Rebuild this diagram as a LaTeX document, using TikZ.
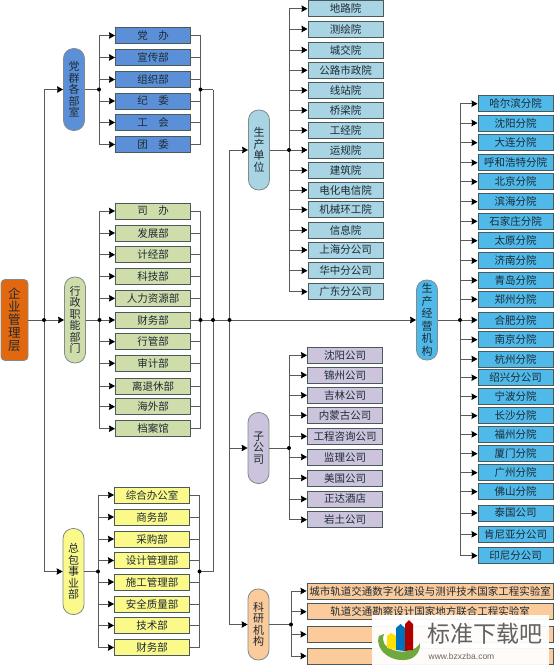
\documentclass[tikz,border=0pt]{standalone}
\usepackage{fontspec}
\setmainfont{Noto Sans CJK SC}
\newfontfamily\latinfont{Liberation Sans}
\definecolor{mLine}{HTML}{5A5A5A}
\definecolor{mEdge}{HTML}{4A5A5A}
\definecolor{mText}{HTML}{1E2A33}
\definecolor{mRoot}{HTML}{E2680F}
\definecolor{mParty}{HTML}{5B90D8}
\definecolor{mAdmin}{HTML}{CFDDAB}
\definecolor{mGen}{HTML}{FBF98A}
\definecolor{mProd}{HTML}{A8D4E3}
\definecolor{mSub}{HTML}{CBC4DC}
\definecolor{mLab}{HTML}{FBCB9C}
\definecolor{mBranch}{HTML}{4FB9EA}
\definecolor{mSwoosh}{HTML}{6FA83C}
\usetikzlibrary{positioning,arrows.meta,calc}
\tikzset{
  unitbox/.style={draw=mEdge,line width=1pt,minimum width=75pt,minimum height=16pt,inner sep=0pt,text=mText,font=\fontsize{10.5}{12}\selectfont},
  pill/.style={draw=mEdge!70,line width=.8pt,rounded corners=10pt,minimum width=21pt,inner sep=0pt,align=center,text=mText,font=\fontsize{11}{11.5}\selectfont},
  conn/.style={draw=mLine,line width=.9pt},
  arr/.style={conn,-{Stealth[length=6pt,width=6.5pt,inset=.6pt,color=black]}},
  dotnode/.style={circle,fill=black,inner sep=0pt,minimum size=4pt}
}
\begin{document}
\begin{tikzpicture}[x=1pt,y=-1pt]
\useasboundingbox (0,0) rectangle (554,665);
% top level
\node[draw=mEdge!70,line width=.8pt,fill=mRoot,rounded corners=4pt,minimum width=27pt,minimum height=81pt,inner sep=0pt,align=center,text=mText,font=\fontsize{12.5}{13}\selectfont] (root) at (14.5,320) {企\\业\\管\\理\\层};
\node[pill,fill=mParty,minimum height=82pt] (partypill) at (74,89.5) {党\\群\\各\\部\\室};
\node[pill,fill=mAdmin,minimum height=86pt] (adminpill) at (75,320) {行\\政\\职\\能\\部\\门};
\node[pill,fill=mGen,minimum height=86pt] (genpill) at (73.5,571.5) {总\\包\\事\\业\\部};
\node[pill,fill=mProd,minimum height=80pt] (prodpill) at (259,150) {生\\产\\单\\位};
\node[pill,fill=mSub,minimum height=71pt] (subpill) at (258.5,448) {子\\公\\司};
\node[pill,fill=mLab,minimum height=71pt] (labpill) at (258.5,624.5) {科\\研\\机\\构};
\node[pill,fill=mBranch,minimum height=80pt,font=\fontsize{11}{12.5}\selectfont] (branchpill) at (427,320) {生\\产\\经\\营\\机\\构};
% junctions
\coordinate (jroot) at (44,320);
\coordinate (jpartyl) at (99,89.5);
\coordinate (jpartyr) at (200.5,89.5);
\coordinate (jadminl) at (99.5,320);
\coordinate (jadminr) at (200.5,320);
\coordinate (jmid) at (213,320);
\coordinate (jtrunk) at (229.5,320);
\coordinate (jgenl) at (98,571.5);
\coordinate (jgenr) at (199.5,571.5);
\coordinate (jprod) at (289,150);
\coordinate (jsub) at (289,448);
\coordinate (jlab) at (291,624.5);
\coordinate (jbranch) at (460,320);
% party offices
\foreach \y/\t [count=\i] in {35.5/党\quad 办,57.5/宣传部,79.5/组织部,101/纪\quad 委,122.5/工\quad 会,144.5/团\quad 委} {
  \node[unitbox,fill=mParty] (party\i) at (153,\y) {\t};
  \draw[arr] (jpartyl |- party\i) -- (party\i);
  \draw[conn] (party\i) -- (jpartyr |- party\i);
}
\draw[conn] (jpartyl |- party1) -- (jpartyl |- party6);
\draw[conn] (jpartyr |- party1) -- (jpartyr |- party6);
% admin offices
\foreach \y/\t [count=\i] in {211/司\quad 办,233/发展部,254.7/计经部,276.3/科技部,298.3/人力资源部,320/财务部,341.7/行管部,363.3/审计部,386/离退休部,406.7/海外部,428.7/档案馆} {
  \node[unitbox,fill=mAdmin] (admin\i) at (153,\y) {\t};
  \draw[arr] (jadminl |- admin\i) -- (admin\i);
  \draw[conn] (admin\i) -- (jadminr |- admin\i);
}
\draw[conn] (jadminl |- admin1) -- (jadminl |- admin11);
\draw[conn] (jadminr |- admin1) -- (jadminr |- admin11);
% general contracting
\foreach \y/\t [count=\i] in {495/综合办公室,517/商务部,539/采购部,560.5/设计管理部,582/施工管理部,604/安全质量部,625.5/技术部,647.5/财务部} {
  \node[unitbox,fill=mGen] (gen\i) at (152,\y) {\t};
  \draw[arr] (jgenl |- gen\i) -- (gen\i);
  \draw[conn] (gen\i) -- (jgenr |- gen\i);
}
\draw[conn] (jgenl |- gen1) -- (jgenl |- gen8);
\draw[conn] (jgenr |- gen1) -- (jgenr |- gen8);
% production units
\foreach \y/\t [count=\i] in {8.7/地路院,29/测绘院,50/城交院,70.3/公路市政院,90.3/线站院,110.3/桥梁院,130.3/工经院,150/运规院,170.3/建筑院,190/电化电信院,209.7/机械环工院,230/信息院,250/上海分公司,270.7/华中分公司,291.7/广东分公司} {
  \node[unitbox,fill=mProd] (prod\i) at (345.5,\y) {\t};
  \draw[arr] (jprod |- prod\i) -- (prod\i);
}
\draw[conn] (jprod |- prod1) -- (jprod |- prod15);
% subsidiaries
\foreach \y/\t [count=\i] in {355.3/沈阳公司,375/锦州公司,395.3/吉林公司,415.3/内蒙古公司,436.3/工程咨询公司,457/监理公司,478/美国公司,499/正达酒店,519.7/岩土公司} {
  \node[unitbox,fill=mSub] (sub\i) at (345,\y) {\t};
  \draw[arr] (jsub |- sub\i) -- (sub\i);
}
\draw[conn] (jsub |- sub1) -- (jsub |- sub9);
% research
\foreach \y/\t [count=\i] in {591/城市轨道交通数字化建设与测评技术国家工程实验室,611.7/轨道交通勘察设计国家地方联合工程实验室,634.3/{},656/{}} {
  \node[unitbox,fill=mLab,minimum width=246pt] (lab\i) at (430,\y) {\t};
  \draw[arr] (jlab |- lab\i) -- (lab\i);
}
\draw[conn] (jlab |- lab1) -- (jlab |- lab4);
% branches
\foreach \y/\t [count=\i] in {103.7/哈尔滨分院,123/沈阳分院,142.7/大连分院,162.7/呼和浩特分院,181.7/北京分院,201.7/滨海分院,221.3/石家庄分院,240.7/太原分院,260.7/济南分院,280.3/青岛分院,299.3/郑州分院,320/合肥分院,339.7/南京分院,359/杭州分院,377.7/绍兴分公司,396.7/宁波分院,415.7/长沙分院,434.3/福州分院,453.7/厦门分院,472.7/广州分院,491.7/佛山分院,513/泰国公司,534.3/肯尼亚分公司,555.7/印尼分公司} {
  \node[unitbox,fill=mBranch] (branch\i) at (515.5,\y) {\t};
  \draw[arr] (jbranch |- branch\i) -- (branch\i);
}
\draw[conn] (jbranch |- branch1) -- (jbranch |- branch24);
% trunks
\draw[conn] (jroot |- partypill) -- (jroot |- genpill);
\draw[conn] (jmid |- jpartyr) -- (jmid |- jgenr);
\draw[conn] (jtrunk |- prodpill) -- (jtrunk |- labpill);
\draw[arr] (root) -- (adminpill);
\draw[arr] (jroot |- partypill) -- (partypill);
\draw[arr] (jroot |- genpill) -- (genpill);
\draw[conn] (partypill) -- (jpartyl);
\draw[conn] (adminpill) -- (jadminl);
\draw[conn] (genpill) -- (jgenl);
\draw[conn] (jpartyr) -- (jmid |- jpartyr);
\draw[conn] (jgenr) -- (jmid |- jgenr);
\draw[arr] (jadminr) -- (branchpill);
\draw[arr] (jtrunk |- prodpill) -- (prodpill);
\draw[arr] (jtrunk |- subpill) -- (subpill);
\draw[arr] (jtrunk |- labpill) -- (labpill);
\draw[conn] (prodpill) -- (jprod);
\draw[conn] (subpill) -- (jsub);
\draw[conn] (labpill) -- (jlab);
\draw[conn] (branchpill) -- (jbranch);
% dots
\foreach \j in {jroot,jpartyl,jpartyr,jadminl,jadminr,jmid,jtrunk,jgenl,jgenr,jprod,jsub,jlab,jbranch}
  \node[dotnode] (dot\j) at (\j) {};
% site mark
\fill[white,opacity=.94] (372,615) rectangle (549,665);
\fill[mSwoosh] (379,636) .. controls (374,650) and (392,664) .. (410,659) .. controls (418,656) and (421,648) .. (420,643) .. controls (417,650) and (404,654) .. (393,650) .. controls (385,647) and (381,642) .. (384,634) -- cycle;
\fill[yellow!85!orange] (387,636) -- (391,633) -- (396,636) -- (396,650) -- (387,648) -- cycle;
\fill[blue!40!cyan!75!black] (396,628) -- (400.5,624) -- (405,628) -- (405,651) -- (396,650) -- cycle;
\fill[red!70!black] (405,624) -- (409,620) -- (413,624) -- (413,650) -- (405,651) -- cycle;
\node[font=\fontsize{23}{23}\selectfont,text=black!62,inner sep=0pt] (marktitle) at (485,634) {标准下载吧};
\node[font=\latinfont\fontsize{8.5}{10}\selectfont,text=black!60,inner sep=0pt] (markurl) at (461.5,656) {www.bzxzba.com};
\end{tikzpicture}
\end{document}
